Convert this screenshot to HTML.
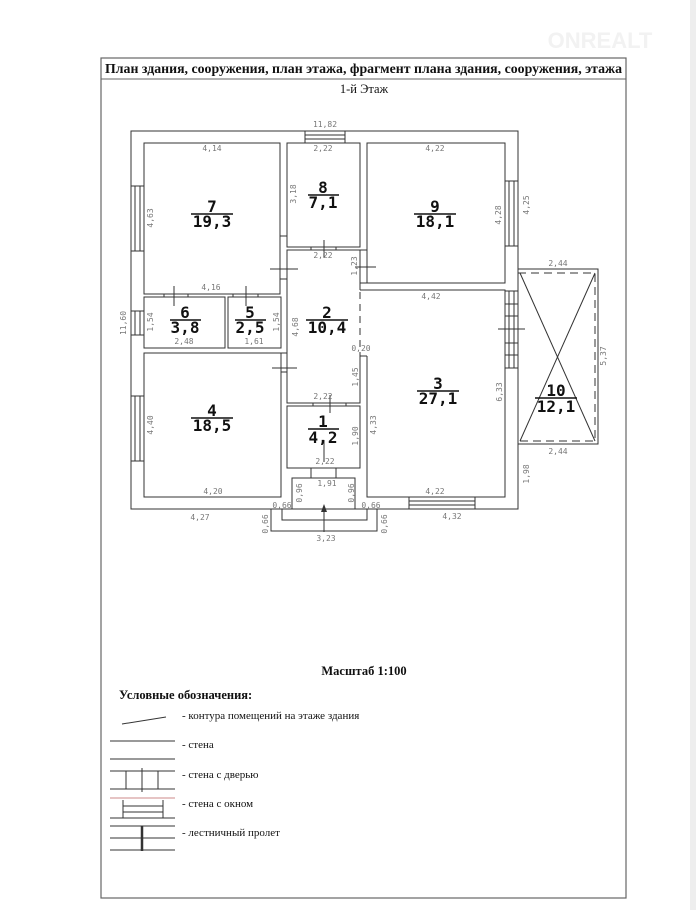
<!DOCTYPE html>
<html><head><meta charset="utf-8"><style>
html,body{margin:0;padding:0;background:#fff;}
svg{display:block}
.d{font-family:"DejaVu Sans Mono","Liberation Mono",monospace;font-size:8px;fill:#777;text-anchor:middle;}
.r{font-family:"DejaVu Sans Mono","Liberation Mono",monospace;font-size:16px;font-weight:bold;fill:#111;text-anchor:middle;}
.s{font-family:"Liberation Serif",serif;fill:#111;}
</style></head><body>
<svg width="696" height="910" viewBox="0 0 696 910" xmlns="http://www.w3.org/2000/svg">
<rect x="0" y="0" width="696" height="910" fill="#fff"/>
<rect x="690" y="0" width="6" height="910" fill="#eee"/>
<rect x="101" y="58" width="525" height="840" fill="none" stroke="#666" stroke-width="1.2"/>
<line x1="101" y1="79" x2="626" y2="79" stroke="#666" stroke-width="1"/>
<text x="105" y="73" class="s" font-size="13.5" font-weight="bold" textLength="517" lengthAdjust="spacingAndGlyphs">План здания, сооружения, план этажа, фрагмент плана здания, сооружения, этажа</text>
<text x="364" y="93" class="s" font-size="12.5" text-anchor="middle">1-й Этаж</text>
<text x="600" y="48" font-family="Liberation Sans,sans-serif" font-size="22" font-weight="bold" fill="#f2f2f2" text-anchor="middle">ONREALT</text>

<g fill="none" stroke="#333" stroke-width="1">
<rect x="131" y="131" width="387" height="378"/>
<rect x="144" y="143" width="136" height="151"/>
<rect x="144" y="297" width="81" height="51"/>
<rect x="228" y="297" width="53" height="51"/>
<rect x="144" y="353" width="137" height="144"/>
<rect x="287" y="143" width="73" height="104"/>
<polyline points="360,290 360,250 287,250 287,403 360,403 360,356"/>
<rect x="287" y="406" width="73" height="62"/>
<rect x="367" y="143" width="138" height="140"/>
<polyline points="367,356 367,497 505,497 505,290 360,290"/>
<line x1="360" y1="250" x2="367" y2="250"/>
<line x1="360" y1="283" x2="367" y2="283"/>
<line x1="360" y1="356" x2="367" y2="356"/>
<line x1="280" y1="236" x2="287" y2="236"/>
<line x1="280" y1="279" x2="287" y2="279"/>
<line x1="281" y1="353" x2="287" y2="353"/>
<line x1="281" y1="372" x2="287" y2="372"/>
<line x1="360" y1="292" x2="360" y2="356" stroke-dasharray="7,5"/>
<polyline points="292,509 292,478 355,478 355,509"/>
<polyline points="282,509 282,520 367,520 367,509"/>
<polyline points="271,509 271,531 377,531 377,509"/>
<line x1="311" y1="468" x2="311" y2="478"/><line x1="336" y1="468" x2="336" y2="478"/>
<line x1="324" y1="440" x2="324" y2="462"/>
<line x1="324" y1="505" x2="324" y2="532"/>
<rect x="305" y="131" width="40" height="12"/><line x1="305" y1="135" x2="345" y2="135"/><line x1="305" y1="139" x2="345" y2="139"/>
<rect x="131" y="186" width="13" height="65"/><line x1="135" y1="186" x2="135" y2="251"/><line x1="140" y1="186" x2="140" y2="251"/>
<rect x="131" y="311" width="13" height="24"/><line x1="135" y1="311" x2="135" y2="335"/><line x1="140" y1="311" x2="140" y2="335"/>
<rect x="131" y="396" width="13" height="65"/><line x1="135" y1="396" x2="135" y2="461"/><line x1="140" y1="396" x2="140" y2="461"/>
<rect x="505" y="181" width="13" height="65"/><line x1="509" y1="181" x2="509" y2="246"/><line x1="514" y1="181" x2="514" y2="246"/>
<rect x="409" y="497" width="66" height="12"/><line x1="409" y1="501" x2="475" y2="501"/><line x1="409" y1="505" x2="475" y2="505"/>
<rect x="505" y="291" width="13" height="77"/>
<line x1="509" y1="291" x2="509" y2="368"/><line x1="514" y1="291" x2="514" y2="368"/>
<line x1="505" y1="304" x2="518" y2="304"/><line x1="505" y1="316" x2="518" y2="316"/>
<line x1="505" y1="343" x2="518" y2="343"/><line x1="505" y1="355" x2="518" y2="355"/>
<line x1="498" y1="329" x2="525" y2="329"/>
<line x1="270" y1="269" x2="298" y2="269"/>
<line x1="272" y1="368" x2="297" y2="368"/>
<line x1="164" y1="294" x2="164" y2="297"/><line x1="188" y1="294" x2="188" y2="297"/><line x1="174" y1="286" x2="174" y2="306"/>
<line x1="233" y1="294" x2="233" y2="297"/><line x1="258" y1="294" x2="258" y2="297"/><line x1="246" y1="286" x2="246" y2="306"/>
<line x1="311" y1="247" x2="311" y2="250"/><line x1="336" y1="247" x2="336" y2="250"/><line x1="324" y1="240" x2="324" y2="258"/>
<line x1="355" y1="267" x2="376" y2="267"/>
<line x1="313" y1="403" x2="313" y2="406"/><line x1="346" y1="403" x2="346" y2="406"/><line x1="330" y1="395" x2="330" y2="413"/>
<rect x="518" y="269" width="80" height="175"/>
<polyline points="518,273 595,273 595,441 518,441" stroke-dasharray="8,5"/>
<line x1="520" y1="273" x2="595" y2="441"/><line x1="595" y1="273" x2="520" y2="441"/>
</g>
<polygon points="324,504 321,512 327,512" fill="#333"/>

<g>
<text class="r" x="212" y="212">7</text><line x1="191" y1="214" x2="233" y2="214" stroke="#111" stroke-width="1.5"/><text class="r" x="212" y="227">19,3</text>
<text class="r" x="323" y="193">8</text><line x1="308" y1="195" x2="339" y2="195" stroke="#111" stroke-width="1.5"/><text class="r" x="323" y="208">7,1</text>
<text class="r" x="435" y="212">9</text><line x1="414" y1="214" x2="456" y2="214" stroke="#111" stroke-width="1.5"/><text class="r" x="435" y="227">18,1</text>
<text class="r" x="185" y="318">6</text><line x1="170" y1="320" x2="201" y2="320" stroke="#111" stroke-width="1.5"/><text class="r" x="185" y="333">3,8</text>
<text class="r" x="250" y="318">5</text><line x1="235" y1="320" x2="266" y2="320" stroke="#111" stroke-width="1.5"/><text class="r" x="250" y="333">2,5</text>
<text class="r" x="327" y="318">2</text><line x1="306" y1="320" x2="348" y2="320" stroke="#111" stroke-width="1.5"/><text class="r" x="327" y="333">10,4</text>
<text class="r" x="212" y="416">4</text><line x1="191" y1="418" x2="233" y2="418" stroke="#111" stroke-width="1.5"/><text class="r" x="212" y="431">18,5</text>
<text class="r" x="323" y="427">1</text><line x1="308" y1="429" x2="339" y2="429" stroke="#111" stroke-width="1.5"/><text class="r" x="323" y="443">4,2</text>
<text class="r" x="438" y="389">3</text><line x1="417" y1="391" x2="459" y2="391" stroke="#111" stroke-width="1.5"/><text class="r" x="438" y="404">27,1</text>
<text class="r" x="556" y="396">10</text><line x1="535" y1="398" x2="577" y2="398" stroke="#111" stroke-width="1.5"/><text class="r" x="556" y="412">12,1</text>
</g>

<g class="d">
<text x="325" y="127">11,82</text>
<text x="212" y="151">4,14</text>
<text x="323" y="151">2,22</text>
<text x="435" y="151">4,22</text>
<text x="211" y="290">4,16</text>
<text x="323" y="258">2,22</text>
<text x="431" y="299">4,42</text>
<text x="184" y="344">2,48</text>
<text x="254" y="344">1,61</text>
<text x="361" y="351">0,20</text>
<text x="323" y="399">2,22</text>
<text x="325" y="464">2,22</text>
<text x="327" y="486">1,91</text>
<text x="213" y="494">4,20</text>
<text x="435" y="494">4,22</text>
<text x="200" y="520">4,27</text>
<text x="452" y="519">4,32</text>
<text x="326" y="541">3,23</text>
<text x="282" y="508">0,66</text>
<text x="371" y="508">0,66</text>
<text x="558" y="266">2,44</text>
<text x="558" y="454">2,44</text>
<text transform="translate(153,218) rotate(-90)">4,63</text>
<text transform="translate(296,194) rotate(-90)">3,18</text>
<text transform="translate(501,215) rotate(-90)">4,28</text>
<text transform="translate(529,205) rotate(-90)">4,25</text>
<text transform="translate(357,266) rotate(-90)">1,23</text>
<text transform="translate(126,323) rotate(-90)">11,60</text>
<text transform="translate(153,322) rotate(-90)">1,54</text>
<text transform="translate(279,322) rotate(-90)">1,54</text>
<text transform="translate(298,327) rotate(-90)">4,68</text>
<text transform="translate(358,377) rotate(-90)">1,45</text>
<text transform="translate(153,425) rotate(-90)">4,40</text>
<text transform="translate(358,436) rotate(-90)">1,90</text>
<text transform="translate(376,425) rotate(-90)">4,33</text>
<text transform="translate(502,392) rotate(-90)">6,33</text>
<text transform="translate(606,356) rotate(-90)">5,37</text>
<text transform="translate(529,474) rotate(-90)">1,98</text>
<text transform="translate(302,493) rotate(-90)">0,96</text>
<text transform="translate(354,493) rotate(-90)">0,96</text>
<text transform="translate(268,524) rotate(-90)">0,66</text>
<text transform="translate(387,524) rotate(-90)">0,66</text>
</g>

<text x="364" y="675" class="s" font-size="12.5" font-weight="bold" text-anchor="middle">Масштаб 1:100</text>
<text x="119" y="699" class="s" font-size="12.5" font-weight="bold">Условные обозначения:</text>
<g stroke="#333" stroke-width="1" fill="none">
<line x1="122" y1="724" x2="166" y2="717"/>
<line x1="110" y1="741" x2="175" y2="741"/><line x1="110" y1="759" x2="175" y2="759"/>
<line x1="110" y1="771" x2="175" y2="771"/><line x1="110" y1="789" x2="175" y2="789"/>
<line x1="126" y1="771" x2="126" y2="789"/><line x1="158" y1="771" x2="158" y2="789"/><line x1="142" y1="768" x2="142" y2="792"/>
<line x1="110" y1="798" x2="175" y2="798" stroke="#c88"/><line x1="110" y1="818" x2="175" y2="818"/>
<line x1="123" y1="800" x2="123" y2="818"/><line x1="163" y1="800" x2="163" y2="818"/>
<line x1="123" y1="806" x2="163" y2="806"/><line x1="123" y1="812" x2="163" y2="812"/>
<line x1="110" y1="826" x2="175" y2="826"/><line x1="110" y1="838" x2="175" y2="838"/><line x1="110" y1="850" x2="175" y2="850"/>
<line x1="142" y1="826" x2="142" y2="851" stroke-width="2.5"/>
</g>
<g class="s" font-size="11">
<text x="182" y="719">- контура помещений на этаже здания</text>
<text x="182" y="748">- стена</text>
<text x="182" y="778">- стена с дверью</text>
<text x="182" y="807">- стена с окном</text>
<text x="182" y="836">- лестничный пролет</text>
</g>
</svg>
</body></html>
